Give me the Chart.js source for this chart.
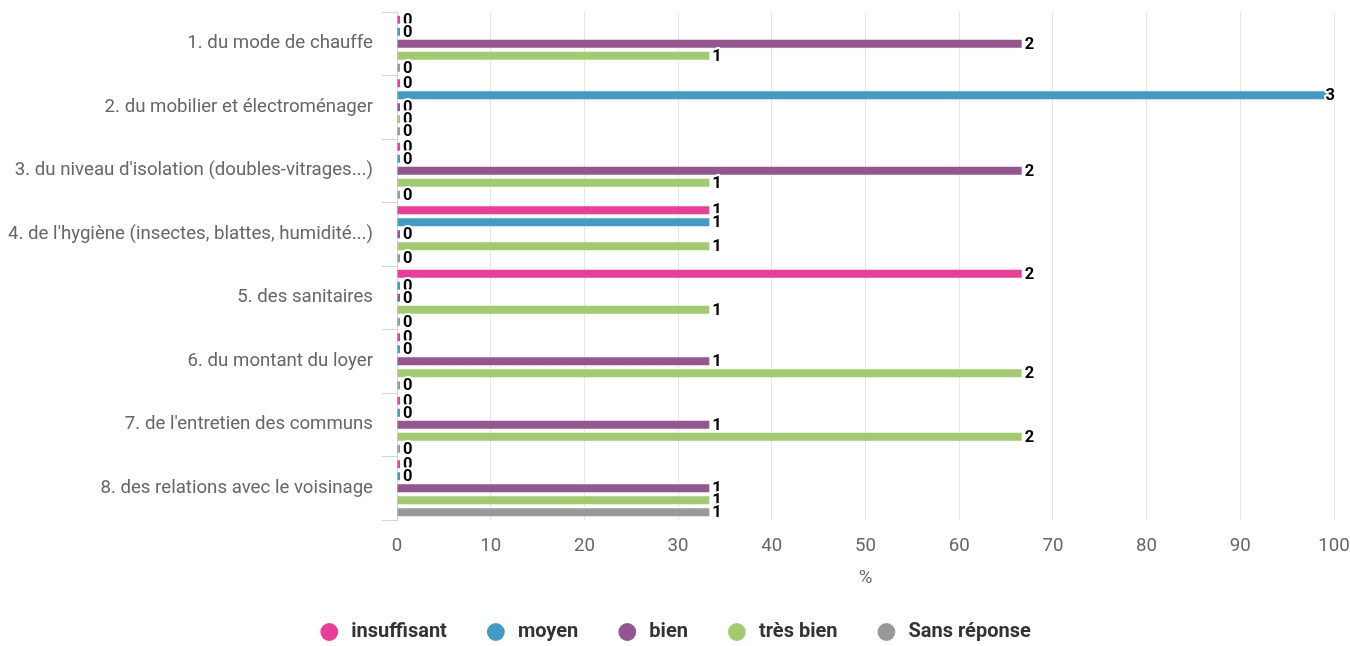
<!DOCTYPE html>
<html>
<head>
<meta charset="utf-8">
<script src="https://cdn.jsdelivr.net/npm/chart.js@4.4.1/dist/chart.umd.min.js"></script>
<style>
  html, body { margin: 0; padding: 0; background: #ffffff; }
  #wrap { width: 1350px; height: 646px; position: relative; }
</style>
</head>
<body>
<div id="wrap"><canvas id="chart" width="1350" height="646"></canvas></div>
<script>
const categories = [
  "1. du mode de chauffe",
  "2. du mobilier et électroménager",
  "3. du niveau d'isolation (doubles-vitrages...)",
  "4. de l'hygiène (insectes, blattes, humidité...)",
  "5. des sanitaires",
  "6. du montant du loyer",
  "7. de l'entretien des communs",
  "8. des relations avec le voisinage"
];
const seriesNames = ["insuffisant", "moyen", "bien", "très bien", "Sans réponse"];

// percentages (bar lengths)
const insuffisant = [0, 0, 0, 33.33, 66.67, 0, 0, 0];
const moyen       = [0, 100, 0, 33.33, 0, 0, 0, 0];
const bien        = [66.67, 0, 66.67, 0, 0, 33.33, 33.33, 33.33];
const tresBien    = [33.33, 0, 33.33, 33.33, 33.33, 66.67, 66.67, 33.33];
const sansReponse = [0, 0, 0, 0, 0, 0, 0, 33.33];

// counts shown as data labels
const insuffisantCounts = [0, 0, 0, 1, 2, 0, 0, 0];
const moyenCounts       = [0, 3, 0, 1, 0, 0, 0, 0];
const bienCounts        = [2, 0, 2, 0, 0, 1, 1, 1];
const tresBienCounts    = [1, 0, 1, 1, 1, 2, 2, 1];
const sansReponseCounts = [0, 0, 0, 0, 0, 0, 0, 1];

const xTickValues = [0, 10, 20, 30, 40, 50, 60, 70, 80, 90, 100];
const xAxisTitle = "%";

const colors = ["#EA3D96", "#429BC7", "#93568F", "#A2CB70", "#999999"];
const seriesValues = [insuffisant, moyen, bien, tresBien, sansReponse];
const seriesCounts = [insuffisantCounts, moyenCounts, bienCounts, tresBienCounts, sansReponseCounts];

const FONT = "Roboto";
const AXIS_FONT_SIZE = 18.67;

const valueLabelPlugin = {
  id: "valueLabels",
  afterDatasetsDraw(chart) {
    const ctx = chart.ctx;
    const area = chart.chartArea;
    ctx.save();
    ctx.font = "bold 16.5px " + FONT;
    ctx.textBaseline = "middle";
    ctx.textAlign = "left";
    ctx.lineJoin = "round";
    chart.data.datasets.forEach((ds, di) => {
      const meta = chart.getDatasetMeta(di);
      meta.data.forEach((el, i) => {
        const txt = String(seriesCounts[di][i]);
        const w = ctx.measureText(txt).width;
        let x = el.x + 3;
        if (x + w > area.right + 1) x = area.right + 1 - w;
        const y = el.y + 1;
        ctx.lineWidth = 4;
        ctx.strokeStyle = "#ffffff";
        ctx.strokeText(txt, x, y);
        ctx.fillStyle = "#000000";
        ctx.fillText(txt, x, y);
      });
    });
    ctx.restore();
  }
};

const datasets = seriesNames.map((name, i) => ({
  label: name,
  data: seriesValues[i],
  backgroundColor: colors[i],
  borderWidth: 0,
  categoryPercentage: 0.945,
  barPercentage: 0.66,
  minBarLength: 3,
  pointStyle: "circle"
}));

new Chart(document.getElementById("chart"), {
  type: "bar",
  data: { labels: categories, datasets },
  plugins: [valueLabelPlugin],
  options: {
    indexAxis: "y",
    responsive: false,
    animation: false,
    layout: { padding: { top: 12, right: 0, left: 0, bottom: -6 } },
    scales: {
      x: {
        type: "linear",
        position: "bottom",
        min: 0,
        max: 100,
        afterBuildTicks(scale) { scale.ticks = xTickValues.map(v => ({ value: v })); },
        afterFit(scale) { scale.height = 97; scale.paddingRight = 16; },
        ticks: {
          color: "#666666",
          font: { family: FONT, size: AXIS_FONT_SIZE },
          padding: 15
        },
        grid: { color: "#e6e6e6", drawTicks: false },
        border: { display: false },
        title: {
          display: true,
          text: xAxisTitle,
          color: "#666666",
          font: { family: FONT, size: AXIS_FONT_SIZE },
          padding: { top: 0, bottom: 27 }
        }
      },
      y: {
        afterFit(scale) { scale.width = 397; scale.paddingTop = 0; scale.paddingBottom = 0; },
        ticks: {
          color: "#666666",
          font: { family: FONT, size: AXIS_FONT_SIZE },
          padding: 9,
          autoSkip: false
        },
        grid: {
          drawOnChartArea: false,
          drawTicks: true,
          tickLength: 15,
          color: "#ccd6eb",
          offset: true
        },
        border: { display: true, color: "#ccd6eb" }
      }
    },
    plugins: {
      tooltip: { enabled: false },
      legend: {
        position: "bottom",
        labels: {
          usePointStyle: true,
          pointStyle: "circle",
          boxHeight: 12.6,
          padding: 5,
          color: "#333333",
          font: { family: FONT, size: 20, weight: "bold" },
          generateLabels(chart) {
            const items = Chart.defaults.plugins.legend.labels.generateLabels(chart);
            items.forEach((it, i) => {
              it.text = "\u200A" + it.text + (i < items.length - 1 ? "\u2003\u2002\u2006" : "");
              it.lineWidth = 0;
              it.strokeStyle = it.fillStyle;
              it.pointStyle = "circle";
            });
            return items;
          }
        }
      }
    }
  }
});
</script>
</body>
</html>
